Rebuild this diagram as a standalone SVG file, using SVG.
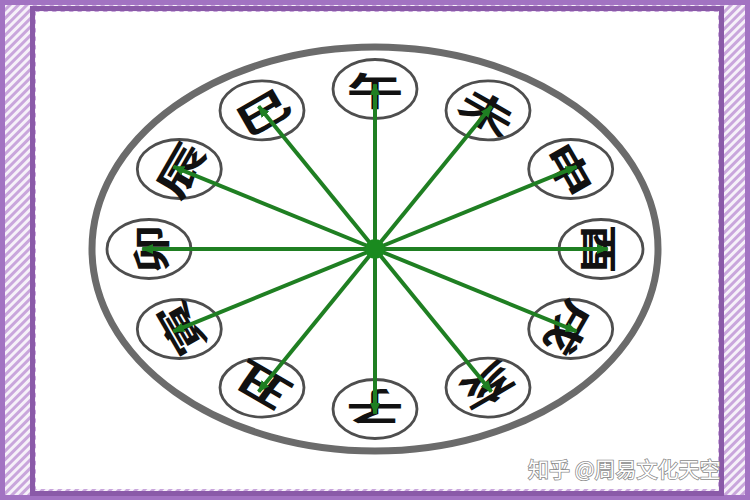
<svg xmlns="http://www.w3.org/2000/svg" width="750" height="500" viewBox="0 0 750 500">
  <defs>
    <pattern id="hatch" width="6" height="6" patternUnits="userSpaceOnUse" patternTransform="rotate(45)">
      <rect width="6" height="6" fill="#c9a6dc"/>
      <line x1="1.5" y1="0" x2="1.5" y2="6" stroke="#f6f1f9" stroke-width="3"/>
    </pattern>
    <marker id="arrow" viewBox="0 0 12 10" refX="11" refY="5" markerWidth="12" markerHeight="10" markerUnits="userSpaceOnUse" orient="auto">
      <path d="M0,0 L12,5 L0,10 Z" fill="#1f7f22"/>
    </marker>
    <style>
      .node ellipse { fill: #ffffff; stroke: #4e4e4e; stroke-width: 2.8; }
      .node text { font-family: "Noto Sans CJK SC", "Noto Sans CJK TC", sans-serif; font-size: 38px; font-weight: 700; fill: #111111; text-anchor: middle; dominant-baseline: central; }
      .edges line { stroke: #1f7f22; stroke-width: 4; stroke-linecap: butt; marker-end: url(#arrow); }
      .wm { font-family: "Noto Sans CJK SC", sans-serif; font-size: 21px; fill: #ffffff; stroke: #8c8c8c; stroke-width: 1.6; paint-order: stroke; }
    </style>
  </defs>

  <!-- frame -->
  <rect x="0" y="0" width="750" height="500" fill="url(#hatch)"/>
  <rect x="0" y="0" width="750" height="500" fill="none" stroke="#a273c2" stroke-width="10"/>
  <rect x="32.5" y="8.5" width="689" height="485" fill="none" stroke="#8a5aa8" stroke-width="5"/>
  <rect x="36" y="12" width="682" height="477" fill="#ffffff"/>

  <!-- outer ring -->
  <ellipse id="ring" cx="375" cy="249" rx="283" ry="202" fill="none" stroke="#6b6b6b" stroke-width="7"/>

  <!-- nodes -->
  <g id="wu" class="node" transform="translate(375,89)"><ellipse rx="42" ry="29.5"/><text transform="rotate(0) scale(1.5,1)">午</text></g>
  <g id="wei" class="node" transform="translate(488,110.4)"><ellipse rx="42" ry="29.5"/><text transform="rotate(30) scale(1.5,1)">未</text></g>
  <g id="shen" class="node" transform="translate(570.7,169)"><ellipse rx="42" ry="29.5"/><text transform="rotate(60) scale(1.5,1)">申</text></g>
  <g id="you" class="node" transform="translate(601,249)"><ellipse rx="42" ry="29.5"/><text transform="rotate(90) scale(1.3,1)">酉</text></g>
  <g id="xu" class="node" transform="translate(570.7,329)"><ellipse rx="42" ry="29.5"/><text transform="rotate(120) scale(1.5,1)">戌</text></g>
  <g id="hai" class="node" transform="translate(488,387.6)"><ellipse rx="42" ry="29.5"/><text transform="rotate(150) scale(1.5,1)">亥</text></g>
  <g id="zi" class="node" transform="translate(375,409)"><ellipse rx="42" ry="29.5"/><text transform="rotate(180) scale(1.5,1)">子</text></g>
  <g id="chou" class="node" transform="translate(262,387.6)"><ellipse rx="42" ry="29.5"/><text transform="rotate(210) scale(1.5,1)">丑</text></g>
  <g id="yin" class="node" transform="translate(179.3,329)"><ellipse rx="42" ry="29.5"/><text transform="rotate(240) scale(1.5,1)">寅</text></g>
  <g id="mao" class="node" transform="translate(149,249)"><ellipse rx="42" ry="29.5"/><text transform="rotate(270) scale(1.3,1)">卯</text></g>
  <g id="chen" class="node" transform="translate(179.3,169)"><ellipse rx="42" ry="29.5"/><text transform="rotate(300) scale(1.5,1)">辰</text></g>
  <g id="si" class="node" transform="translate(262,110.4)"><ellipse rx="42" ry="29.5"/><text transform="rotate(330) scale(1.5,1)">巳</text></g>

  <!-- connectors -->
  <g id="connectors" class="edges">
    <line x1="375" y1="249" x2="375" y2="84.2"/>
    <line x1="375" y1="249" x2="491.4" y2="106.3"/>
    <line x1="375" y1="249" x2="576.6" y2="166.6"/>
    <line x1="375" y1="249" x2="607.8" y2="249"/>
    <line x1="375" y1="249" x2="576.6" y2="331.4"/>
    <line x1="375" y1="249" x2="491.4" y2="391.7"/>
    <line x1="375" y1="249" x2="375" y2="413.8"/>
    <line x1="375" y1="249" x2="258.6" y2="391.7"/>
    <line x1="375" y1="249" x2="173.4" y2="331.4"/>
    <line x1="375" y1="249" x2="142.2" y2="249"/>
    <line x1="375" y1="249" x2="173.4" y2="166.6"/>
    <line x1="375" y1="249" x2="258.6" y2="106.3"/>
    <circle cx="375" cy="249" r="10" fill="#1a8a1f"/>
  </g>

  <!-- watermark -->
  <text class="wm" x="528" y="477">知乎 @周易文化天空</text>
</svg>
